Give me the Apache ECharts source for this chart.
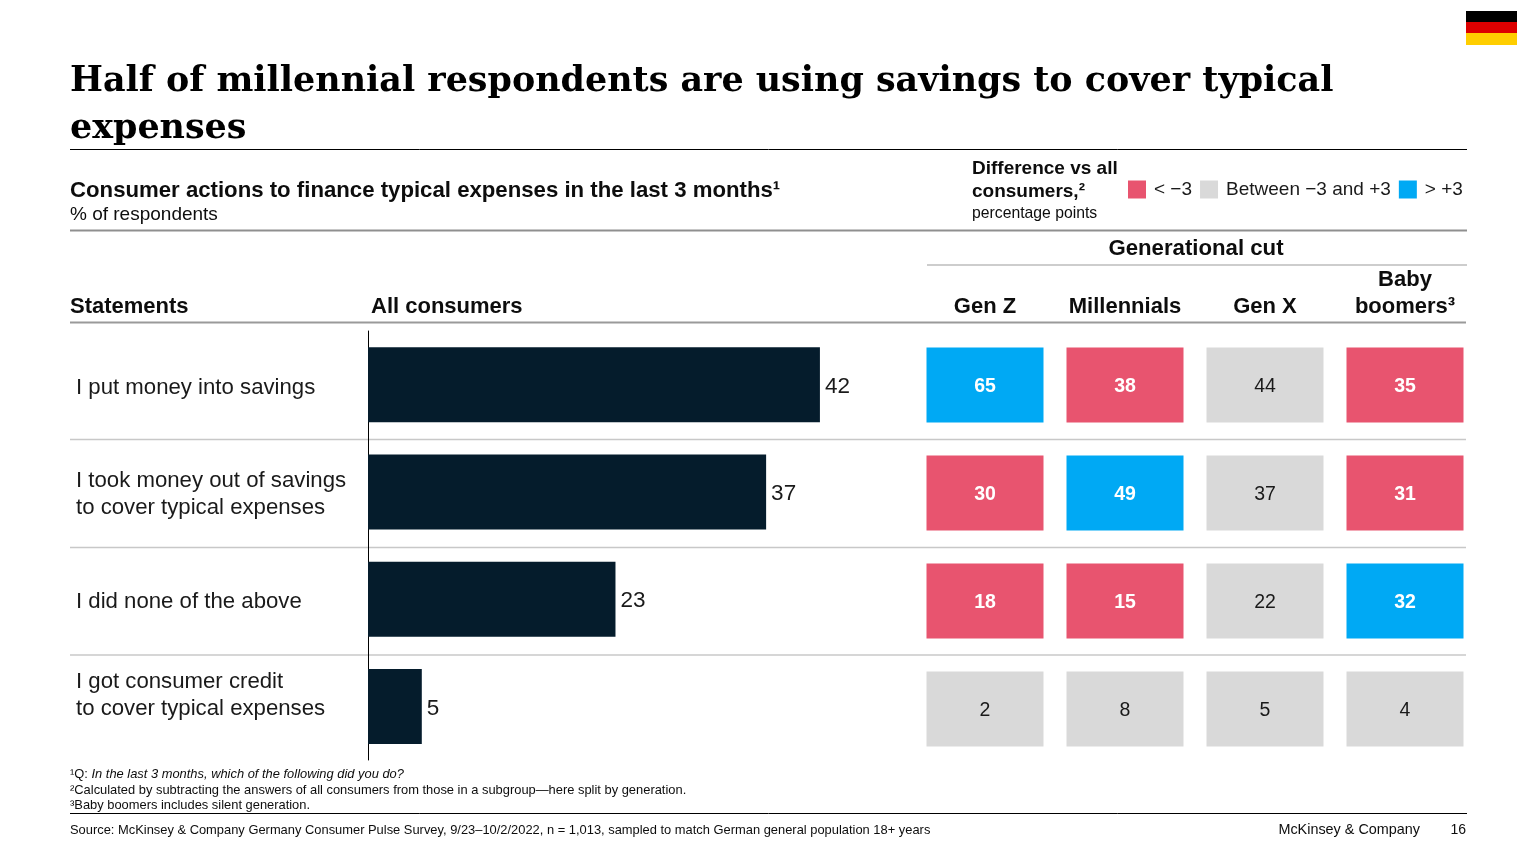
<!DOCTYPE html>
<html>
<head>
<meta charset="utf-8">
<title>Half of millennial respondents</title>
<script src="https://cdn.jsdelivr.net/npm/echarts@6/dist/echarts.min.js"></script>
<style>
  html, body { margin: 0; background: #fff; }
  #chart { width: 1536px; height: 864px; }
</style>
</head>
<body>
<div id="chart"></div>
<script>
const statements = [
  'I put money into savings',
  'I took money out of savings\nto cover typical expenses',
  'I did none of the above',
  // trailing blank line: this label sits higher than its bar in the original
  'I got consumer credit\nto cover typical expenses\n '
];
const allConsumers = [42, 37, 23, 5];
const generations = ['Gen Z', 'Millennials', 'Gen X', 'Baby\nboomers³'];
const genZ = [65, 30, 18, 2];
const millennials = [38, 49, 15, 8];
const genX = [44, 37, 22, 5];
const boomers = [35, 31, 32, 4];
const levelNames = ['< −3', 'Between −3 and +3', '> +3'];
const levelColors = ['#e8546f', '#d9d9d9', '#00a9f4'];

const SANS = '"Liberation Sans", Arial, sans-serif';
const SERIF = '"DejaVu Serif", serif';

// cells are grouped by their difference vs all consumers, one series per legend entry
let cells = [[], [], []];
[genZ, millennials, genX, boomers].forEach((values, col) => {
  values.forEach((v, row) => {
    let diff = v - allConsumers[row];
    let level = diff < -3 ? 0 : (diff > 3 ? 2 : 1);
    cells[level].push([col, row, v]);
  });
});

function renderCell(level) {
  return (params, api) => {
    let center = api.coord([api.value(0), api.value(1)]);
    let size = api.size([1, 1]);
    let w = size[0] * 117 / 140;
    let h = size[1] * 75 / 108;
    return {
      type: 'group',
      children: [
        {
          type: 'rect',
          shape: {x: center[0] - w / 2, y: center[1] - h / 2, width: w, height: h},
          style: {fill: levelColors[level]}
        },
        {
          type: 'text',
          x: center[0],
          y: center[1] + 2,
          style: {
            text: String(api.value(2)),
            fill: level === 1 ? '#1a1a1a' : '#ffffff',
            font: (level === 1 ? '' : 'bold ') + '19.5px ' + SANS,
            align: 'center',
            verticalAlign: 'middle'
          }
        }
      ]
    };
  };
}

function label(x, y, text, size, weight, extra) {
  return {
    type: 'text',
    x: x,
    y: y,
    silent: true,
    style: Object.assign({
      text: text,
      fill: '#0d0d0d',
      fontFamily: SANS,
      fontSize: size,
      fontWeight: weight || 'normal',
      verticalAlign: 'middle'
    }, extra)
  };
}

function rule(x1, x2, y, color, width) {
  return {
    type: 'line',
    silent: true,
    shape: {x1: x1, y1: y, x2: x2, y2: y},
    style: {stroke: color, lineWidth: width}
  };
}

function flagStripe(y, height, color) {
  return {
    type: 'rect',
    silent: true,
    shape: {x: 1466, y: y, width: 51, height: height},
    style: {fill: color}
  };
}

let chartOptions = {
  backgroundColor: '#ffffff',
  animation: false,
  legend: {
    left: 1128,
    top: 180,
    padding: 0,
    itemWidth: 18,
    itemHeight: 18,
    itemGap: 8,
    selectedMode: false,
    textStyle: {fontFamily: SANS, fontSize: 19, color: '#1a1a1a', padding: [0, 0, 0, 3]},
    data: levelNames.map((name, i) => ({name: name, icon: 'rect', itemStyle: {color: levelColors[i]}}))
  },
  grid: [
    {left: 368, top: 331, width: 538, height: 429},
    {left: 915, top: 331, width: 560, height: 432},
    // holds only the statement labels, slightly below the bar centres
    {left: 368, top: 334, width: 538, height: 429}
  ],
  xAxis: [
    {gridIndex: 0, type: 'value', min: 0, max: 50, show: false},
    {
      gridIndex: 1,
      type: 'category',
      position: 'top',
      data: generations,
      axisLine: {show: false},
      axisTick: {show: false},
      axisLabel: {
        interval: 0,
        margin: 11,
        fontFamily: SANS,
        fontSize: 22,
        fontWeight: 'bold',
        lineHeight: 27,
        color: '#0d0d0d'
      }
    },
    {gridIndex: 2, type: 'value', min: 0, max: 50, show: false}
  ],
  yAxis: [
    {
      gridIndex: 0,
      type: 'category',
      inverse: true,
      data: statements,
      axisLine: {lineStyle: {color: '#000000', width: 1}},
      axisTick: {show: false},
      axisLabel: {show: false}
    },
    {gridIndex: 1, type: 'category', inverse: true, data: statements, show: false},
    {
      gridIndex: 2,
      type: 'category',
      inverse: true,
      data: statements,
      axisLine: {show: false},
      axisTick: {show: false},
      axisLabel: {
        interval: 0,
        margin: 292,
        align: 'left',
        fontFamily: SANS,
        fontSize: 22.2,
        lineHeight: 27,
        color: '#1a1a1a'
      }
    }
  ],
  series: [
    {
      type: 'bar',
      name: 'All consumers',
      xAxisIndex: 0,
      yAxisIndex: 0,
      data: allConsumers,
      barWidth: 75,
      itemStyle: {color: '#051c2c'},
      label: {
        show: true,
        position: 'right',
        distance: 5,
        offset: [0, 2],
        fontFamily: SANS,
        fontSize: 22.5,
        color: '#1a1a1a'
      }
    }
  ].concat(levelNames.map((name, i) => ({
    type: 'custom',
    name: name,
    xAxisIndex: 1,
    yAxisIndex: 1,
    data: cells[i],
    renderItem: renderCell(i)
  }))),
  graphic: [
    flagStripe(11, 11, '#000000'),
    flagStripe(22, 11, '#dd0000'),
    flagStripe(33, 12, '#ffce00'),

    label(70, 82, 'Half of millennial respondents are using savings to cover typical', 34.9, 'bold', {fontFamily: SERIF, fill: '#000000'}),
    label(70, 129, 'expenses', 34.9, 'bold', {fontFamily: SERIF, fill: '#000000'}),

    rule(70, 1467, 149.5, '#000000', 1),
    label(70, 191, 'Consumer actions to finance typical expenses in the last 3 months¹', 22.2, 'bold'),
    label(70, 215, '% of respondents', 19),
    label(972, 169, 'Difference vs all', 19, 'bold'),
    label(972, 192, 'consumers,²', 19, 'bold'),
    label(972, 214, 'percentage points', 15.75),

    rule(70, 1467, 230.5, '#8f8f8f', 2),
    label(1196, 249, 'Generational cut', 22.2, 'bold', {align: 'center'}),
    rule(927, 1467, 265, '#bdbdbd', 1.5),
    label(70, 307, 'Statements', 22, 'bold'),
    label(371, 307, 'All consumers', 22, 'bold'),
    rule(70, 1466, 322.5, '#9a9a9a', 2),
    rule(70, 1466, 439.5, '#c8c8c8', 1.5),
    rule(70, 1466, 547.5, '#c8c8c8', 1.5),
    rule(70, 1466, 655, '#c8c8c8', 1.5),

    label(70, 774, '¹Q: {i|In the last 3 months, which of the following did you do?}', 12.9, 'normal', {
      rich: {i: {fontFamily: SANS, fontSize: 12.9, fontStyle: 'italic', fill: '#0d0d0d'}}
    }),
    label(70, 790, '²Calculated by subtracting the answers of all consumers from those in a subgroup—here split by generation.', 12.9),
    label(70, 805, '³Baby boomers includes silent generation.', 12.9),
    rule(70, 1467, 813.5, '#000000', 1),
    label(70, 830, 'Source: McKinsey & Company Germany Consumer Pulse Survey, 9/23–10/2/2022, n = 1,013, sampled to match German general population 18+ years', 12.9),
    label(1420, 830, 'McKinsey & Company', 14.4, 'normal', {align: 'right'}),
    label(1466, 830, '16', 14, 'normal', {align: 'right'})
  ]
};

let chartInstance = echarts.init(document.getElementById('chart'));
chartInstance.setOption(chartOptions);
</script>
</body>
</html>
